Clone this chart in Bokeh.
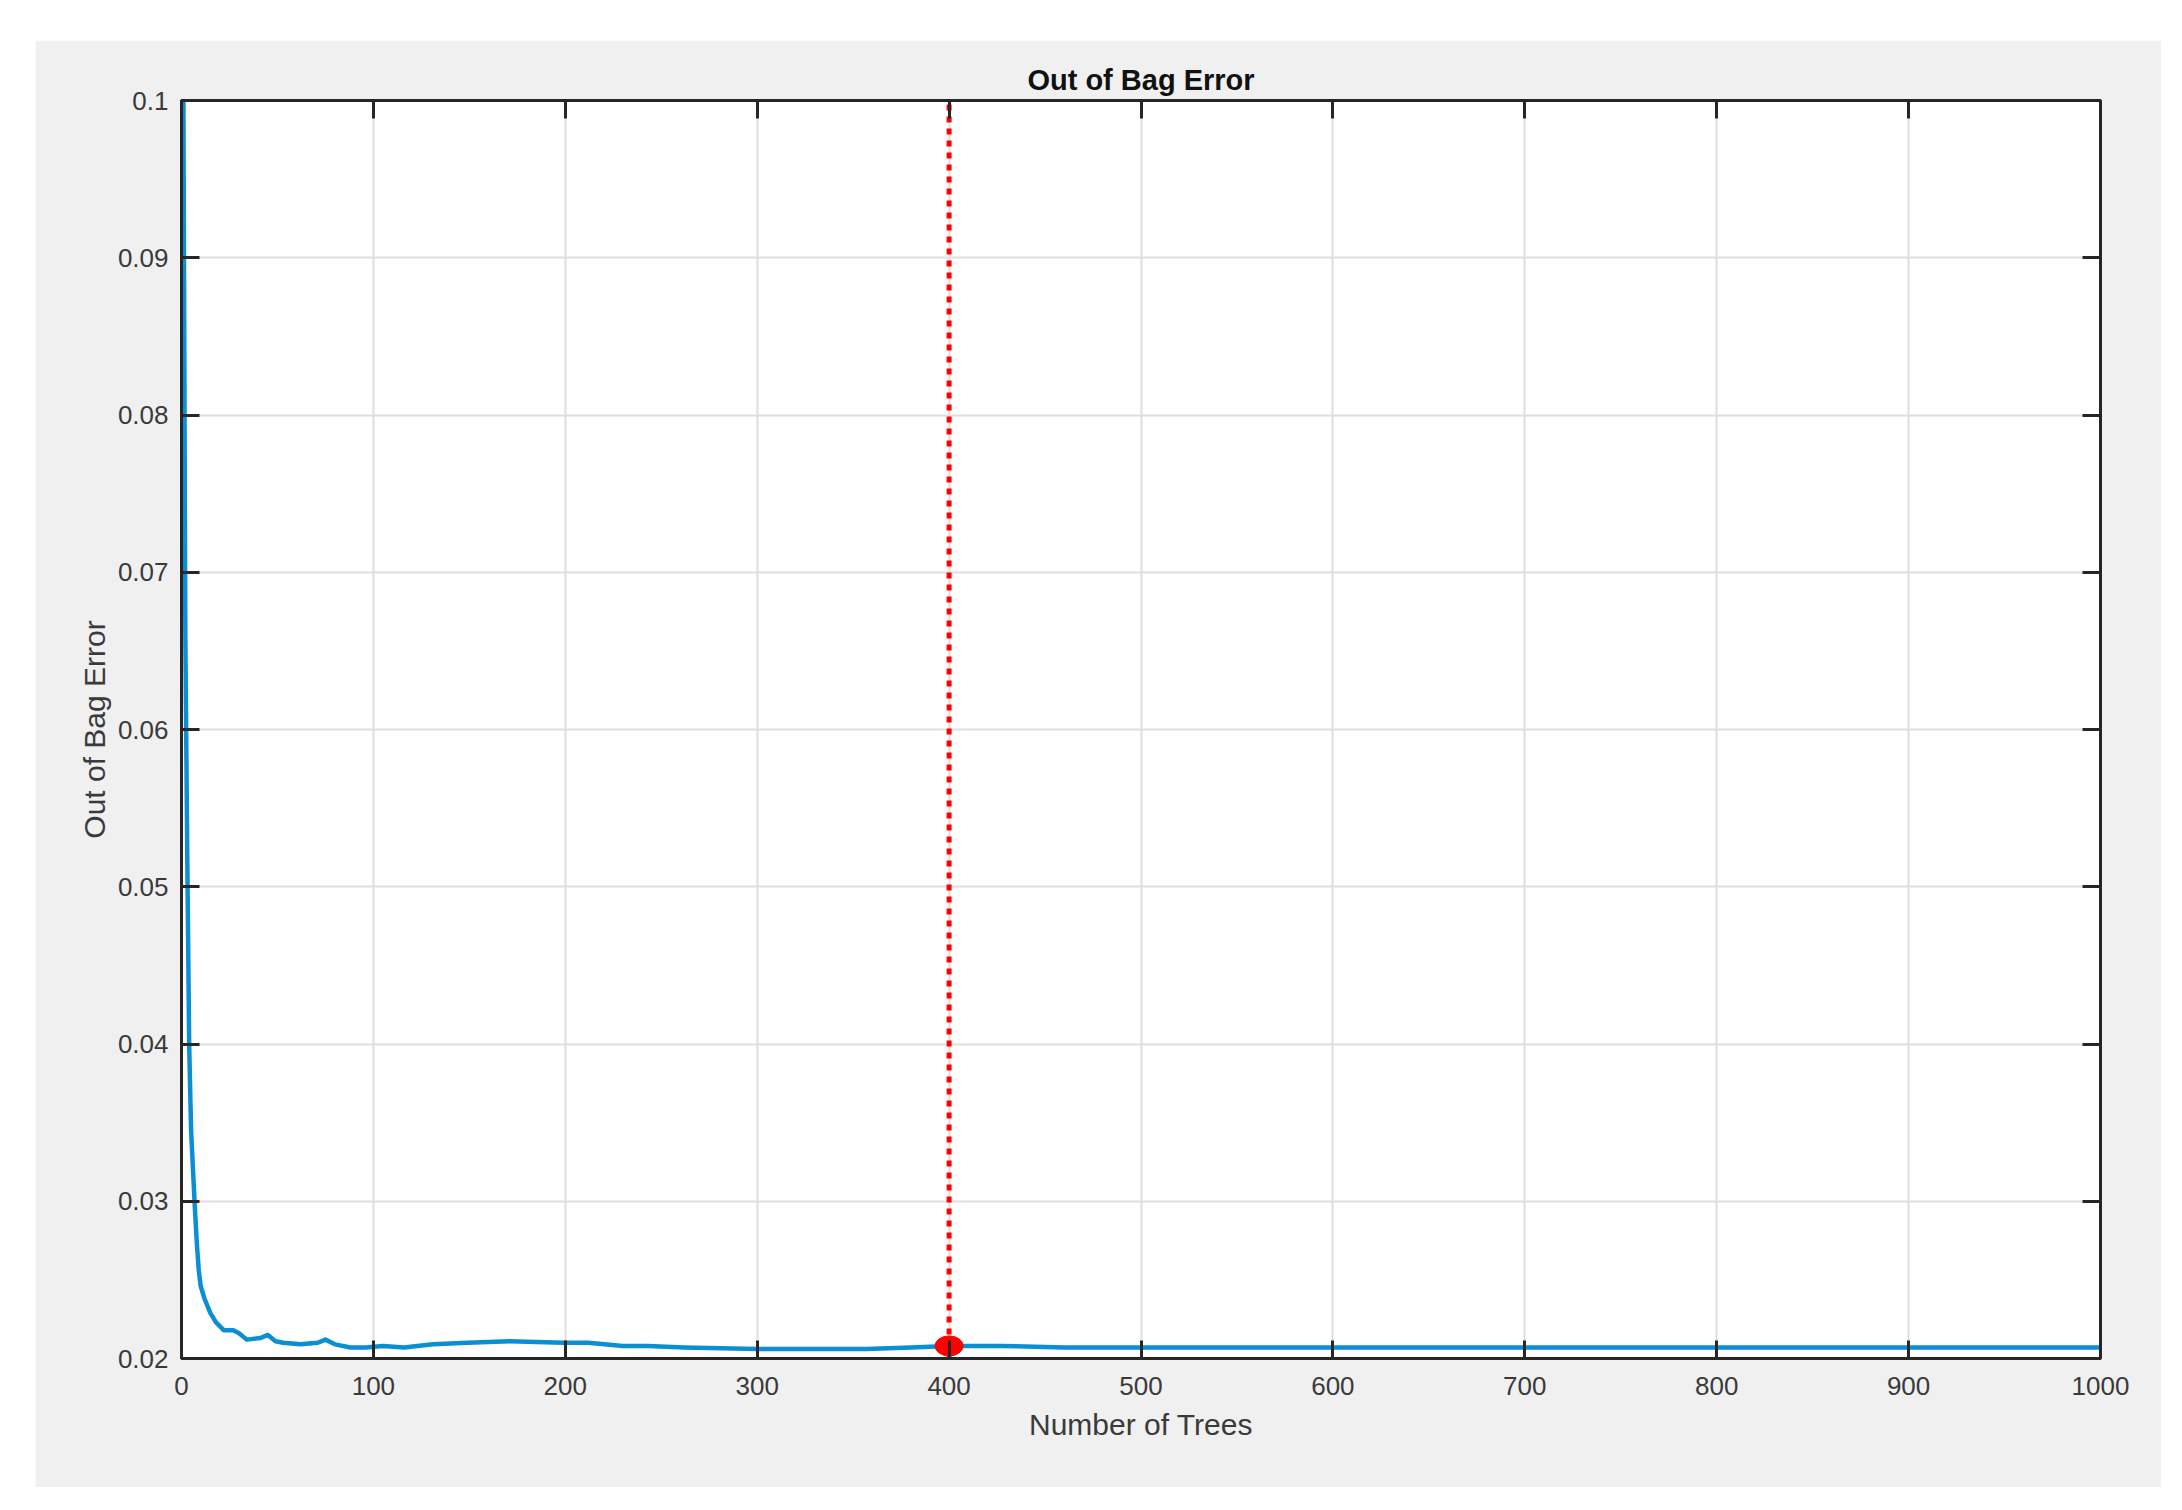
from bokeh.plotting import figure
from bokeh.models import Range1d, LinearAxis, FixedTicker, CustomJSTickFormatter, Spacer
from bokeh.layouts import column, row
from bokeh.embed import file_html
from bokeh.resources import INLINE

# ---- data ----
trees = [1, 2, 3, 4, 5, 6, 7, 8, 9, 10, 12, 15, 18, 22, 27, 30, 34, 41, 45, 49,
         53, 62, 71, 75, 80, 88, 96, 105, 116, 131, 149, 171, 199, 212, 230, 243,
         262, 300, 357, 380, 400, 427, 460, 500, 550, 600, 650, 700, 750, 800,
         850, 900, 950, 1000]
oob_error = [0.1, 0.066, 0.052, 0.040, 0.0345, 0.032, 0.0295, 0.0273, 0.0256, 0.0246,
             0.0238, 0.0229, 0.0223, 0.0218, 0.0218, 0.0216, 0.0212, 0.0213, 0.0215, 0.0211,
             0.0210, 0.0209, 0.0210, 0.0212, 0.0209, 0.0207, 0.0207, 0.0208, 0.0207, 0.0209,
             0.0210, 0.0211, 0.0210, 0.0210, 0.0208, 0.0208, 0.0207, 0.0206, 0.0206, 0.0207,
             0.0208, 0.0208, 0.0207, 0.0207, 0.0207, 0.0207, 0.0207, 0.0207, 0.0207, 0.0207,
             0.0207, 0.0207, 0.0207, 0.0207]
best_trees = [400]
best_error = [0.0208]

x_ticks = [0, 100, 200, 300, 400, 500, 600, 700, 800, 900, 1000]
y_ticks = [0.02, 0.03, 0.04, 0.05, 0.06, 0.07, 0.08, 0.09, 0.1]
y_tick_labels = ["0.02", "0.03", "0.04", "0.05", "0.06", "0.07", "0.08", "0.09", "0.1"]

title_text = "Out of Bag Error"
x_label = "Number of Trees"
y_label = "Out of Bag Error"

# ---- styling ----
FONT = "Liberation Sans"
AXIS_COLOR = "#262626"
TICK_TEXT = "#3a3a3a"
GRID_COLOR = "#dedede"
LINE_COLOR = "#0a8fd4"
RED = "#ff0000"

p = figure(width=2126, height=1447,
           x_range=Range1d(x_ticks[0], x_ticks[-1]),
           y_range=Range1d(y_ticks[0], y_ticks[-1]),
           output_backend="svg", toolbar_location=None,
           min_border_left=146, min_border_right=61,
           min_border_top=60, min_border_bottom=129,
           background_fill_color="white", border_fill_color="#f0f0f0",
           x_axis_label=x_label, y_axis_label=y_label)

bottom_axis = p.below[0]
left_axis = p.left[0]

p.outline_line_color = AXIS_COLOR
p.outline_line_width = 3

p.title.text = title_text
p.title.align = "center"
p.title.text_font = FONT
p.title.text_font_size = "29px"
p.title.text_font_style = "bold"
p.title.text_color = "#111111"
p.title.standoff = 10

bottom_axis.ticker = FixedTicker(ticks=x_ticks)
left_axis.ticker = FixedTicker(ticks=y_ticks)
left_axis.major_label_overrides = {t: s for t, s in zip(y_ticks, y_tick_labels)}

# extra box axes (top/right) with inward ticks, no labels
top_axis = LinearAxis(ticker=FixedTicker(ticks=x_ticks),
                      formatter=CustomJSTickFormatter(code="return ''"))
right_axis = LinearAxis(ticker=FixedTicker(ticks=y_ticks),
                        formatter=CustomJSTickFormatter(code="return ''"))
p.add_layout(top_axis, "above")
p.add_layout(right_axis, "right")

for ax in [bottom_axis, left_axis, top_axis, right_axis]:
    ax.axis_line_color = AXIS_COLOR
    ax.axis_line_width = 3
    ax.major_tick_line_color = AXIS_COLOR
    ax.major_tick_line_width = 3
    ax.major_tick_in = 18
    ax.major_tick_out = 0
    ax.minor_tick_line_color = None
    ax.major_label_text_font = FONT
    ax.major_label_text_font_size = "26px"
    ax.major_label_text_color = TICK_TEXT
    ax.axis_label_text_font = FONT
    ax.axis_label_text_font_size = "30px"
    ax.axis_label_text_font_style = "normal"
    ax.axis_label_text_color = TICK_TEXT

for ax in [top_axis, right_axis]:
    ax.major_label_text_font_size = "1px"
    ax.major_label_standoff = 0

bottom_axis.major_label_standoff = 18
left_axis.major_label_standoff = 13
bottom_axis.axis_label_standoff = 10
left_axis.axis_label_standoff = 4

p.xgrid.ticker = FixedTicker(ticks=x_ticks)
p.ygrid.ticker = FixedTicker(ticks=y_ticks)
p.xgrid.grid_line_color = GRID_COLOR
p.ygrid.grid_line_color = GRID_COLOR
p.xgrid.grid_line_width = 2
p.ygrid.grid_line_width = 2

# OOB error curve
p.line(trees, oob_error, line_color=LINE_COLOR, line_width=4.5, line_join="round")

# best-number-of-trees marker and dotted vertical line
p.segment(x0=best_trees, y0=[y_ticks[0]], x1=best_trees, y1=[y_ticks[-1]],
          line_color=RED, line_width=5, line_dash="6 6")
p.ellipse(x=best_trees, y=best_error, width=28, height=20,
          width_units="screen", height_units="screen",
          fill_color=RED, line_color=RED)

layout = column(Spacer(height=40), row(Spacer(width=35), p))

open("out.html", "w").write(file_html(layout, INLINE))
